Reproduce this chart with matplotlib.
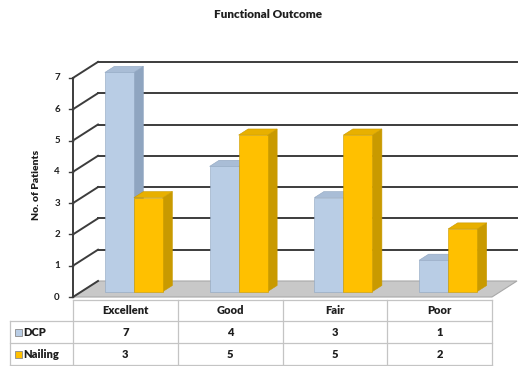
import matplotlib
matplotlib.use("Agg")
import matplotlib.pyplot as plt
from matplotlib.patches import Polygon, Rectangle

plt.rcParams['font.family'] = ['Lato', 'DejaVu Sans']

categories = ['Excellent', 'Good', 'Fair', 'Poor']
dcp = [7, 4, 3, 1]
nailing = [3, 5, 5, 2]
series_names = ['DCP', 'Nailing']
y_ticks = [0, 1, 2, 3, 4, 5, 6, 7]

# faces: front, side, top
dcp_colors = ('#b9cde5', '#8fa5c0', '#a9bdd6')
nail_colors = ('#ffc000', '#c99a00', '#e8b000')

W, H = 528, 366
PX_X = 104.75   # pixels per category
PX_Y = 31.3     # pixels per unit value
X0, Y0 = 73, 297  # pixel position of the front origin

# oblique depth offset of the back wall in data units
DX = 25 / PX_X
DY = 16 / PX_Y


def px(x, y):
    return (x - X0) / PX_X, (Y0 - y) / PX_Y


fig = plt.figure(figsize=(W / 100, H / 100), dpi=100)
ax = fig.add_axes([0, 0, 1, 1])
ax.set_xlim(px(0, 0)[0], px(W, 0)[0])
ax.set_ylim(px(0, H)[1], px(0, 0)[1])
ax.axis('off')

n = len(categories)
ymax = max(y_ticks)
txt_c = '#1e1e1e'

# floor
ax.add_patch(Polygon([(0, 0), (n, 0), (n + DX, DY), (DX, DY)],
                     closed=True, fc='#c8c8c8', ec='#a8a8a8', lw=0.8, zorder=1))

# walls and gridlines
grid_c = '#3c3c3c'
for v in y_ticks:
    ax.plot([0, DX], [v, v + DY], color=grid_c, lw=1.4, zorder=2)
    if v > 0:
        ax.plot([DX, n + DX], [v + DY, v + DY], color=grid_c, lw=1.4, zorder=2)
    ax.plot([-0.035, 0], [v, v], color=grid_c, lw=1.0, zorder=2)
    ax.text(px(57, 0)[0], v, str(v), ha='center', va='center',
            fontsize=7, fontweight='bold', color=txt_c)
ax.plot([0, 0], [0, ymax], color=grid_c, lw=1.4, zorder=2)


def bar3d(x_left, width, height, d0, d1, colors):
    fx, fy = x_left + d0 * DX, d0 * DY
    sx, sy = (d1 - d0) * DX, (d1 - d0) * DY
    front = [(fx, fy), (fx + width, fy), (fx + width, fy + height), (fx, fy + height)]
    side = [(fx + width, fy), (fx + width + sx, fy + sy),
            (fx + width + sx, fy + sy + height), (fx + width, fy + height)]
    top = [(fx, fy + height), (fx + width, fy + height),
           (fx + width + sx, fy + sy + height), (fx + sx, fy + sy + height)]
    for pts, c in zip((side, top, front), (colors[1], colors[2], colors[0])):
        ax.add_patch(Polygon(pts, closed=True, fc=c, ec=colors[1], lw=0.4, zorder=3))


bw = 0.277
gap = (1 - 2 * bw) / 2
for i in range(n):
    bar3d(i + gap, bw, dcp[i], 0.34, 0.72, dcp_colors)
    bar3d(i + gap + bw, bw, nailing[i], 0.34, 0.72, nail_colors)

# title and axis label
ax.text(*px(268, 15), 'Functional Outcome', ha='center', va='center',
        fontsize=8.5, fontweight='heavy', color=txt_c)
ax.text(*px(36, 185), 'No. of Patients', ha='center', va='center', rotation=90,
        fontsize=7.5, fontweight='heavy', color=txt_c)

# data table
line_c = '#c4c4c4'
col_edges = [X0 + i * PX_X for i in range(n + 1)]
row_edges = [300, 321, 343, 365]
ax.plot(*zip(px(X0, row_edges[0]), px(col_edges[-1], row_edges[0])), color=line_c, lw=0.9)
for ry in row_edges[1:]:
    ax.plot(*zip(px(10, ry), px(col_edges[-1], ry)), color=line_c, lw=0.9)
for cx in col_edges:
    ax.plot(*zip(px(cx, row_edges[0]), px(cx, row_edges[-1])), color=line_c, lw=0.9)
ax.plot(*zip(px(10, row_edges[1]), px(10, row_edges[-1])), color=line_c, lw=0.9)

for i, cat in enumerate(categories):
    cx = X0 + (i + 0.5) * PX_X
    ax.text(*px(cx, 311), cat, ha='center', va='center', fontsize=8,
            fontweight='heavy', color=txt_c)
    ax.text(*px(cx, 332), str(dcp[i]), ha='center', va='center', fontsize=8,
            fontweight='heavy', color=txt_c)
    ax.text(*px(cx, 354), str(nailing[i]), ha='center', va='center', fontsize=8,
            fontweight='heavy', color=txt_c)

for name, cols, ry in zip(series_names, (dcp_colors, nail_colors), (332, 354)):
    kx, ky = px(15, ry + 3.5)
    ax.add_patch(Rectangle((kx, ky), 7 / PX_X, 7 / PX_Y, fc=cols[0], ec='#8a8a8a', lw=0.6))
    ax.text(*px(23, ry), name, ha='left', va='center', fontsize=8,
            fontweight='heavy', color=txt_c)

fig.savefig('out.png', dpi=100)
